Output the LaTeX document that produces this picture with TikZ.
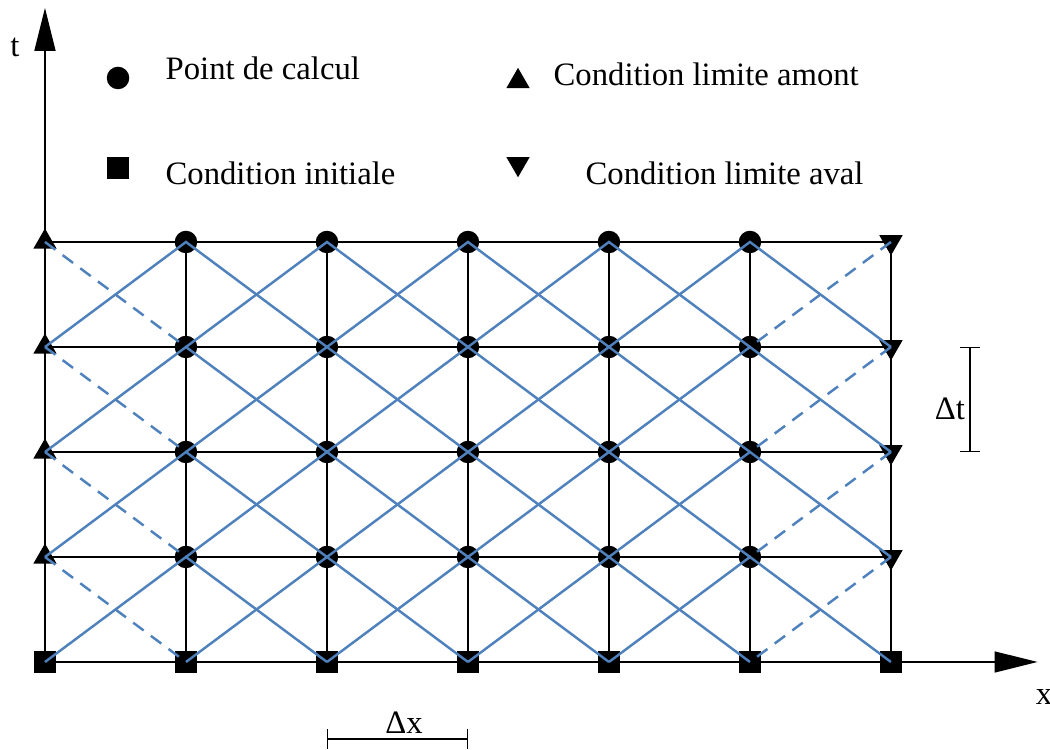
\documentclass[tikz,border=0pt]{standalone}
\usepackage{fontspec}
\setmainfont{Liberation Serif}
\usetikzlibrary{arrows.meta, shapes.geometric}
\definecolor{mBlue}{HTML}{4F81BD}

\begin{document}
\begin{tikzpicture}[x=14.1mm, y=10.5mm,
    every node/.style={font=\fontsize{9.3}{11}\selectfont},
    calcpt/.style={circle, fill=black, inner sep=0pt, minimum size=2.25mm},
    initpt/.style={rectangle, fill=black, inner sep=0pt, minimum size=2.15mm},
    amontpt/.style={regular polygon, regular polygon sides=3, fill=black, inner sep=0pt, minimum size=2.7mm},
    avalpt/.style={amontpt, shape border rotate=180},
    gridline/.style={black, line width=0.4pt},
    carac/.style={mBlue, line width=0.7pt},
    caracbc/.style={carac, dash pattern=on 1.3mm off 0.9mm},
    legtext/.style={anchor=base west, inner sep=0pt},
    axisarrow/.style={-{Triangle[length=4.3mm, width=2.1mm]}},
    bracket/.style={black, line width=0.4pt, {Bar[width=2mm]}-{Bar[width=2mm]}}]

  \useasboundingbox (-0.319,-0.829) rectangle (7.128,6.305);

  % grid points
  \foreach \i in {0,...,6}
    \foreach \j in {0,...,4}
      \coordinate (g-\i-\j) at (\i,\j);
  \coordinate (xend) at (7.04,0);
  \coordinate (tend) at (0,6.23);

  % grid and axes
  \foreach \j in {1,...,4} \draw[gridline] (g-0-\j) -- (g-6-\j);
  \foreach \i in {1,...,6} \draw[gridline] (g-\i-0) -- (g-\i-4);
  \draw[gridline, axisarrow] (g-0-0) -- (xend);
  \draw[gridline, axisarrow] (g-0-0) -- (tend);
  \node (xlab) at (7.085,-0.333) {x};
  \node (tlab) at (-0.213,5.848) {t};

  % markers
  \foreach \i in {0,...,6} \node[initpt] (m-\i-0) at (g-\i-0) {};
  \foreach \j in {1,...,4} {
    \node[amontpt] (m-0-\j) at (g-0-\j) {};
    \node[avalpt] (m-6-\j) at (g-6-\j) {};
    \foreach \i in {1,...,5} \node[calcpt] (m-\i-\j) at (g-\i-\j) {};
  }

  % characteristics
  \foreach \j in {1,...,4} {
    \pgfmathtruncatemacro{\jb}{\j-1}
    \foreach \i in {1,...,5} {
      \pgfmathtruncatemacro{\il}{\i-1}
      \pgfmathtruncatemacro{\ir}{\i+1}
      \draw[carac] (g-\il-\jb) -- (g-\i-\j) -- (g-\ir-\jb);
    }
    \draw[caracbc] (g-0-\j) -- (g-1-\jb);
    \draw[caracbc] (g-6-\j) -- (g-5-\jb);
  }

  % legend
  \node[calcpt] (leg-calc) at (0.518,5.562) {};
  \node[legtext] (txt-calc) at (0.851,5.543) {Point de calcul};
  \node[amontpt] (leg-amont) at (3.355,5.53) {};
  \node[legtext] (txt-amont) at (3.603,5.495) {Condition limite amont};
  \node[initpt] (leg-init) at (0.518,4.705) {};
  \node[legtext] (txt-init) at (0.851,4.543) {Condition initiale};
  \node[avalpt] (leg-aval) at (3.355,4.745) {};
  \node[legtext] (txt-aval) at (3.830,4.543) {Condition limite aval};

  % steps
  \coordinate (dt-a) at (6.56,2);
  \coordinate (dt-b) at (6.56,3);
  \draw[bracket] (dt-a) -- (dt-b);
  \node[anchor=base east, inner sep=0pt] (dtlab) at (6.53,2.305) {Δt};
  \coordinate (dx-a) at (2,-0.733);
  \coordinate (dx-b) at (3,-0.733);
  \draw[bracket] (dx-a) -- (dx-b);
  \node[anchor=base, inner sep=0pt] (dxlab) at (2.546,-0.68) {Δx};
\end{tikzpicture}
\end{document}
